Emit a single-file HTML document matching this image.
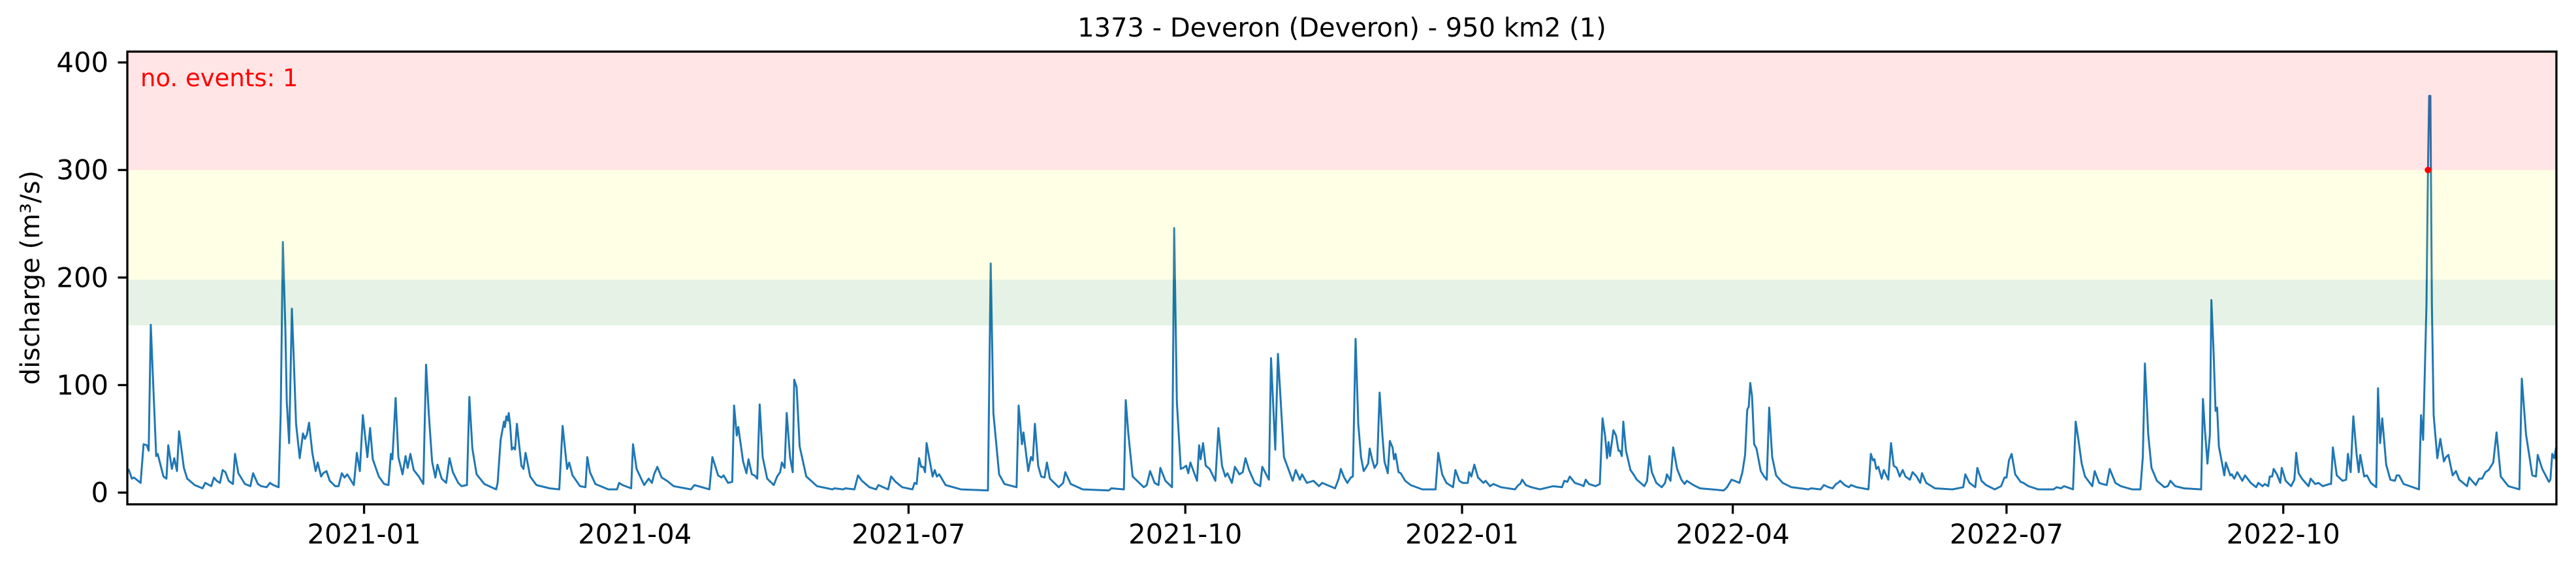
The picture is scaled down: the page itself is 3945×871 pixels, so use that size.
<!DOCTYPE html>
<html>
<head>
<meta charset="utf-8">
<style>
html,body{margin:0;padding:0;background:#fff;}
svg{display:block;font-family:"DejaVu Sans","Liberation Sans",sans-serif;}
</style>
</head>
<body>
<svg id="chart" width="3945" height="871" viewBox="0 0 3945 871" xmlns="http://www.w3.org/2000/svg">
  <rect x="0" y="0" width="3945" height="871" fill="#fff"/>
  <text x="2055" y="56" font-size="40" text-anchor="middle" fill="#000">1373 - Deveron (Deveron) - 950 km2 (1)</text>
  <text transform="translate(60,425) rotate(-90)" font-size="40" text-anchor="middle" fill="#000">discharge (m³/s)</text>
  <g id="series"></g>
  <g id="bands"></g>
  <g id="events"></g>
  <g id="yaxis"></g>
  <g id="xaxis"></g>
  <text x="215" y="132" font-size="37" fill="#ff0000">no. events: 1</text>
  <rect x="195" y="79" width="3720" height="693" fill="none" stroke="#000" stroke-width="3.3"/>
</svg>
<script>
// ---- data (days since 2021-01-01, discharge m3/s) ----
const dayOffsets = [
-78.3,-77.2,-76.5,-74.3,-73.3,-72.2,-71.6,-70.9,-70,-69.1,-68.6,-66.7,-65.7,-65.1,-63.9,-63.1,-62.2,-61.5,-59.9,-58.8,-56.3,-53.7,-52.8,-50.8,-49.9,-49,-47.9,-47,-46.1,-45,-43.6,-42.9,-41.8,-39.6,-37.8,-36.9,-35.3,-34.2,-32.4,-31.3,-30.2,-28.4,-27.7,-27,-26.2,-25.7,-24.9,-24,-23.5,-22.6,-21.4,-20.3,-19.7,-19,-18.3,-17.2,-16.1,-15.4,-14.3,-13.6,-12.5,-11.4,-9.6,-8.5,-7.4,-6.5,-5.6,-3.4,-2.4,-1.4,-0.4,1.1,2,2.9,4.9,6.7,8.1,8.9,9.4,10.5,11.4,12.8,13.8,14.5,15.4,16.5,
18.2,19.7,20.6,21.5,22.6,23.7,24.4,25.8,27.3,28.4,29.5,31.3,32.4,34.2,35,36,37.4,40,43.9,44.4,45.4,46.5,46.8,47.3,47.8,48.1,48.6,49.1,49.7,50.2,50.8,52.3,53,53.7,55.2,57.3,61.7,64.9,66,67.5,68.2,69.3,71.8,73.6,74.2,75.1,76.9,81.2,84.1,84.8,85.9,88.8,89.4,90.6,93.1,94.6,95.7,96.4,97.5,98.9,100.7,102.9,108.7,109.8,114.8,115.8,117.7,118.8,119.5,
121,122.4,123,123.9,124.4,125.3,126,127.1,127.8,128.9,129.8,130.7,131.5,132.5,134,136.2,137.3,138.3,138.9,139.8,140.5,141.6,142.5,143,143.8,144.8,147,150.6,155.7,156.4,159.3,160,163,164.2,165.5,168,170.2,171,174.2,175.2,176.7,178.9,182.3,183,183.7,184.5,185.2,185.9,186.5,187,189,189.7,190.4,191.2,193.3,198.4,207.4,208.3,209.2,211.1,212.9,216.9,217.6,218.7,219.2,220.8,221.7,222.3,223,
224.1,225.1,226.2,227,228,230.9,232.4,233.1,234.9,238.9,247.6,248.4,252.6,253.2,254.1,255.5,259.2,260.2,261.3,262.8,264.1,264.7,266.4,268.6,269.3,270.2,271.5,272.3,273.3,274,274.7,276.9,277.6,278.1,278.9,279.8,281.1,283,284,285.2,286.3,287,288.5,289.5,291,292.1,293,294.2,296.1,297.9,298.6,300.8,301.5,302.9,303.8,305.8,308.7,309.7,311.1,311.8,313.4,315.6,317.4,318.5,322.8,
324,324.7,325.8,326.9,328,328.7,329.6,330.5,331.4,332.3,333,333.8,334.3,335.1,335.9,336.8,337.6,338.5,339.2,340.3,341,341.9,342.4,342.9,343.9,344.6,346.1,347.9,351.8,356.2,357.1,358.4,359.8,362,362.8,364.1,365.2,366.2,366.9,367.4,368.1,369.1,370.3,372.1,372.8,374.3,375.4,377.9,382.6,383.7,384.3,385,386.2,388,390.9,395.3,398.2,399,400,400.8,402.5,404.7,405.4,406.1,407.2,409.4,410.8,411.7,412.6,413.2,413.7,414.2,415.3,416.2,417,417.5,418.1,418.6,419.5,421,422,423.1,
425.6,426.5,427.3,428.1,429.6,431.4,432.5,433.1,434.3,435.2,436.5,437.9,439,439.7,441.9,444.1,452,453.1,454.6,455.6,457.2,458.2,459.1,459.8,460.3,460.8,461.4,462.1,462.9,464.3,465.4,466.3,467.1,468.1,469.4,471.6,474.5,480.2,481,484.2,485.3,486.8,488.2,489.3,490,490.7,492.2,493.6,494.3,496.2,500.1,500.9,501.6,502.1,502.7,503.4,504.5,505.2,506.7,507.6,508.5,509.5,510.5,511.5,512.4,513.9,514.8,516.1,517.3,517.9,519.3,522.2,528,
531.6,532.3,533.7,535.6,536.3,537.7,539.2,542.1,544.2,545.3,546,546.8,547.7,548.9,550.7,551.6,553.3,556.5,561.6,562.7,564.1,565.1,568.1,569,569.9,571,572.1,574.5,575.3,576.8,577.9,579.3,580.3,582.2,584,587.7,590.5,591.3,592,593.1,594.2,596,598.5,599.6,600.5,602.1,605,610.7,611.3,611.9,612.8,613.6,614.1,614.8,615.5,616,616.6,618.4,618.9,620.4,620.9,621.7,622.7,624.4,625.3,
627.2,629,629.7,631.1,631.9,633,633.5,634.3,634.8,635.9,637,637.5,638.8,640.6,641.7,642.3,643.1,644.2,646.4,647.1,648.6,649.7,651.1,653.3,653.9,654.5,655.8,657.7,658.9,659.5,660.4,661.3,662.4,663.1,663.6,664.9,665.8,667.1,668.9,669.5,670.2,670.9,672.2,673.6,675.1,675.7,676.5,678,683.1,683.8,684.5,685.6,686.1,686.5,686.9,687.4,688,689.2,690.2,691.4,692.1,692.9,694.3,695.4,696.5,699.1,699.8,702,703.1,704.1,705.2,706.3,707.8,708.9,710.3,712.8,716.5,717.3,718.7,720.8,722,722.6,724.1,726.3,726.8,727.4,728.1,728.7
];
const discharge = [
22,13,14,9,45,44,39,156,94,34,36,15,13,44,22,32,20,57,23,13,7,4,9,6,14,11,9,21,19,11,8,36,18,8,6,18,8,6,5,9,7,5,74,233,155,84,46,171,134,64,32,55,50,54,65,37,20,28,15,18,20,11,6,6,18,14,17,7,37,20,72,33,60,31,15,8,7,36,31,88,33,17,34,23,36,21,
15,8,119,74,29,14,26,13,9,32,19,9,6,7,89,41,17,8,3,9,49,66,61,71,67,74,62,40,42,40,64,25,22,37,15,7,4,3,62,22,28,16,6,5,33,19,8,3,3,9,7,4,45,22,7,13,9,17,24,14,11,6,3,7,3,33,16,14,16,
9,10,81,53,61,43,29,18,31,17,16,13,82,33,13,7,15,19,28,23,74,33,19,105,98,43,15,6,3,4,3,4,3,16,11,5,3,7,3,15,10,5,3,9,8,32,24,24,19,46,15,21,15,17,7,3,2,213,74,17,8,5,81,45,56,20,33,30,64,
25,15,14,28,13,5,9,19,8,3,2,4,3,86,54,15,5,7,20,9,7,23,11,5,246,84,22,23,25,18,28,11,44,31,46,25,22,11,60,25,15,18,9,24,17,19,32,21,9,6,24,12,125,40,129,33,11,21,12,17,9,11,6,9,4,
13,22,14,9,14,15,143,64,33,20,23,27,41,31,23,27,93,54,29,18,48,42,31,36,19,18,11,7,3,3,37,17,9,5,21,11,9,9,9,19,15,26,14,9,11,6,8,5,3,7,8,12,7,5,3,6,5,11,10,15,9,7,6,12,8,6,8,69,52,32,47,34,58,53,39,39,34,66,39,21,17,12,
6,11,34,19,9,5,9,17,11,42,22,12,8,11,7,4,2,5,12,11,9,19,35,77,80,102,90,45,41,20,15,12,79,33,16,9,5,3,4,3,7,5,4,8,9,11,7,5,7,5,3,36,30,31,22,24,13,21,12,46,25,23,15,21,15,12,19,15,9,18,9,4,3,
5,17,9,5,23,11,7,3,6,14,14,30,36,17,10,9,6,3,3,5,4,6,3,66,49,27,15,6,20,9,8,7,22,9,6,3,3,33,120,54,23,11,5,6,11,6,4,3,87,60,27,54,179,134,76,79,43,16,28,16,17,13,19,11,16,
9,5,9,6,8,6,15,15,22,17,9,23,11,6,12,37,18,13,6,13,8,9,6,8,8,42,16,11,12,36,19,71,35,19,35,15,16,9,5,97,46,69,26,12,11,16,16,8,3,72,49,175,300,369,369,175,72,32,50,29,33,35,16,20,12,6,14,7,13,13,19,21,28,56,15,6,3,106,54,16,15,35,22,10,12,36,32,42
];
const eventDays = [686.1];
const eventValues = [300];
const bandLower = [155.5, 198, 300];
const bandUpper = [198, 300, 420];
const bandColors = ['rgba(0,128,0,0.1)','rgba(255,255,0,0.1)','rgba(255,0,0,0.1)'];
const bandNames = ['band-green','band-yellow','band-red'];
const yTickValues = [0,100,200,300,400];
const xTickDays = [0,90,181,273,365,455,546,638];
const xTickLabels = ['2021-01','2021-04','2021-07','2021-10','2022-01','2022-04','2022-07','2022-10'];

// ---- axes ----
const NS='http://www.w3.org/2000/svg';
const PL=195, PR=3915, PT=79, PB=772;
const X_MIN=-78.7, X_MAX=728.8, Y_MIN=-10.9, Y_MAX=410.1;
function xs(d){return PL+(d-X_MIN)/(X_MAX-X_MIN)*(PR-PL);}
function ys(v){return PB-(v-Y_MIN)/(Y_MAX-Y_MIN)*(PB-PT);}
function mk(tag,attrs,parent){const e=document.createElementNS(NS,tag);for(const k in attrs)e.setAttribute(k,attrs[k]);parent.appendChild(e);return e;}

// series line
const gS=document.getElementById('series');
let d='';
for(let i=0;i<dayOffsets.length;i++){d+=(i?'L':'M')+xs(dayOffsets[i]).toFixed(1)+' '+ys(discharge[i]).toFixed(1);}
const line=mk('path',{d:d,fill:'none',stroke:'#1f77b4','stroke-width':3,'stroke-linejoin':'round'},gS);



// bands (over line, translucent)
const gB=document.getElementById('bands');
for(let i=0;i<bandLower.length;i++){
  const top=Math.max(PT,ys(bandUpper[i])), bot=Math.min(PB,ys(bandLower[i]));
  const r=mk('rect',{x:PL,y:top,width:PR-PL,height:bot-top,fill:bandColors[i]},gB);
  
  
}

// events
const gE=document.getElementById('events');
for(let i=0;i<eventDays.length;i++){
  const c=mk('circle',{cx:xs(eventDays[i]),cy:ys(eventValues[i]),r:5,fill:'#ff0000'},gE);
  
  
}

// y axis
const gY=document.getElementById('yaxis');
for(const v of yTickValues){
  const y=ys(v);
  const t=mk('line',{x1:PL-14.5,x2:PL,y1:y,y2:y,stroke:'#000','stroke-width':3.3},gY);
  
  
  const l=mk('text',{x:PL-29,y:y+14.5,'font-size':41.7,'text-anchor':'end',fill:'#000'},gY);
  l.textContent=String(v);
  
  
}
// x axis
const gX=document.getElementById('xaxis');
for(let i=0;i<xTickDays.length;i++){
  const x=xs(xTickDays[i]);
  const t=mk('line',{x1:x,x2:x,y1:PB,y2:PB+14.5,stroke:'#000','stroke-width':3.3},gX);
  
  
  const l=mk('text',{x:x,y:832,'font-size':41.7,'text-anchor':'middle',fill:'#000'},gX);
  l.textContent=xTickLabels[i];
  
  
}
</script>
</body>
</html>
